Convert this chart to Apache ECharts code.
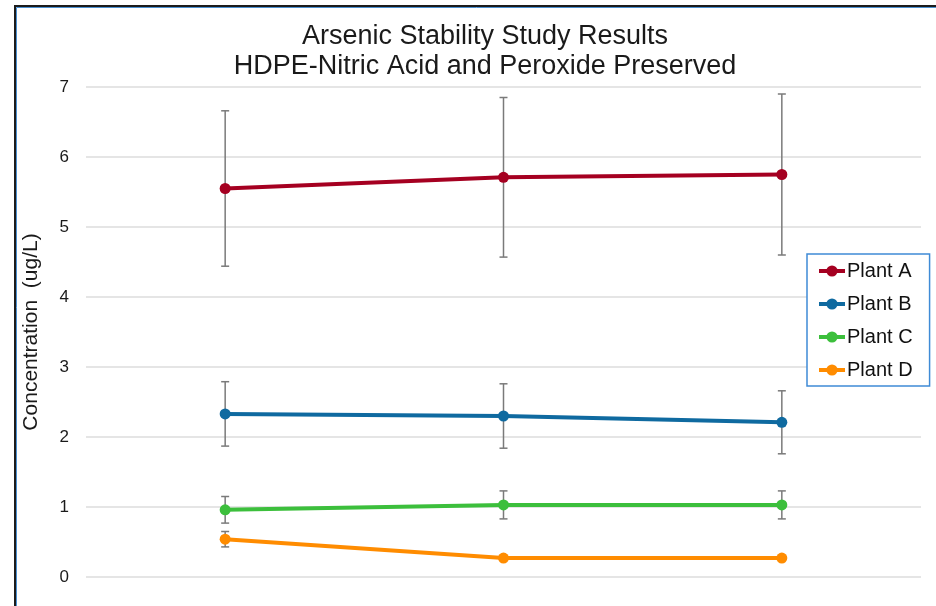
<!DOCTYPE html>
<html>
<head>
<meta charset="utf-8">
<script src="https://cdn.jsdelivr.net/npm/echarts@6/dist/echarts.min.js"></script>
<style>
html,body{margin:0;padding:0;background:#fff;}
#chart{width:936px;height:606px;}
</style>
</head>
<body>
<div id="chart"></div>
<script>
const categories = ['T1', 'T2', 'T3'];
const plantA = [5.55, 5.71, 5.75];
const plantAErr = [1.11, 1.14, 1.15];
const plantB = [2.33, 2.30, 2.21];
const plantBErr = [0.46, 0.46, 0.45];
const plantC = [0.96, 1.03, 1.03];
const plantCErr = [0.19, 0.20, 0.20];
const plantD = [0.54, 0.27, 0.27];
const plantDErr = [0.11, 0.02, 0.02];
const seriesNames = ['Plant A', 'Plant B', 'Plant C', 'Plant D'];
const yTicks = [0, 1, 2, 3, 4, 5, 6, 7];

const colors = ['#a50021', '#0f6aa0', '#3cbf3c', '#ff8c00'];
const values = [plantA, plantB, plantC, plantD];
const errs = [plantAErr, plantBErr, plantCErr, plantDErr];

const chart = echarts.init(document.getElementById('chart'));

function errRender(params, api) {
  const x = api.value(0);
  const hi = api.coord([x, api.value(2)]);
  const lo = api.coord([x, api.value(1)]);
  const w = 4;
  const style = { stroke: '#7a7a7a', lineWidth: 1.5 };
  return {
    type: 'group',
    children: [
      { type: 'line', shape: { x1: hi[0], y1: hi[1], x2: lo[0], y2: lo[1] }, style },
      { type: 'line', shape: { x1: hi[0] - w, y1: hi[1], x2: hi[0] + w, y2: hi[1] }, style },
      { type: 'line', shape: { x1: lo[0] - w, y1: lo[1], x2: lo[0] + w, y2: lo[1] }, style }
    ]
  };
}

const series = [];
values.forEach((vals, i) => {
  series.push({
    type: 'custom',
    name: seriesNames[i] + ' err',
    renderItem: errRender,
    data: vals.map((v, j) => [j, v - errs[i][j], v + errs[i][j]]),
    z: 1,
    silent: true
  });
});
values.forEach((vals, i) => {
  series.push({
    type: 'line',
    name: seriesNames[i],
    data: vals,
    color: colors[i],
    symbol: 'circle',
    symbolSize: 11,
    lineStyle: { width: 4, color: colors[i] },
    itemStyle: { color: colors[i] },
    z: 3
  });
});

chart.setOption({
  animation: false,
  textStyle: { fontFamily: 'Liberation Sans, Arial, sans-serif' },
  title: {
    text: 'Arsenic Stability Study Results\nHDPE-Nitric Acid and Peroxide Preserved',
    left: 480,
    textAlign: 'center',
    top: 17,
    textStyle: { fontSize: 27, fontWeight: 'normal', color: '#1a1a1a', lineHeight: 30, fontFamily: 'Liberation Sans, Arial, sans-serif' }
  },
  graphic: [
    { type: 'rect', shape: { x: 15, y: 6, width: 1000, height: 700 }, style: { fill: 'none', stroke: '#1b1b1b', lineWidth: 2 }, silent: true },
    { type: 'rect', shape: { x: 16.5, y: 7.5, width: 1000, height: 700 }, style: { fill: 'none', stroke: '#4a8fd0', lineWidth: 1 }, silent: true }
  ],
  legend: {
    data: seriesNames,
    orient: 'vertical',
    left: 807,
    top: 254,
    padding: [7, 17, 6, 10],
    itemWidth: 26,
    itemHeight: 14,
    itemGap: 13,
    borderColor: '#3f8bd6',
    borderWidth: 1.5,
    backgroundColor: '#fff',
    lineStyle: { width: 4 },
    textStyle: { fontSize: 20, color: '#111', padding: [0, 0, 0, -3] }
  },
  grid: { left: 86, right: 15, top: 87, bottom: 29, containLabel: false },
  xAxis: {
    type: 'category',
    data: categories,
    boundaryGap: true,
    axisLine: { show: false },
    axisTick: { show: false },
    axisLabel: { show: false }
  },
  yAxis: {
    type: 'value',
    min: yTicks[0],
    max: yTicks[yTicks.length - 1],
    interval: 1,
    name: 'Concentration  (ug/L)',
    nameLocation: 'middle',
    nameGap: 44,
    nameTextStyle: { fontSize: 21, color: '#1a1a1a' },
    axisLine: { show: false },
    axisTick: { show: false },
    axisLabel: { fontSize: 17, color: '#1a1a1a', margin: 17 },
    splitLine: { lineStyle: { color: '#dcdcdc', width: 1.5 } }
  },
  series: series
});
</script>
</body>
</html>
